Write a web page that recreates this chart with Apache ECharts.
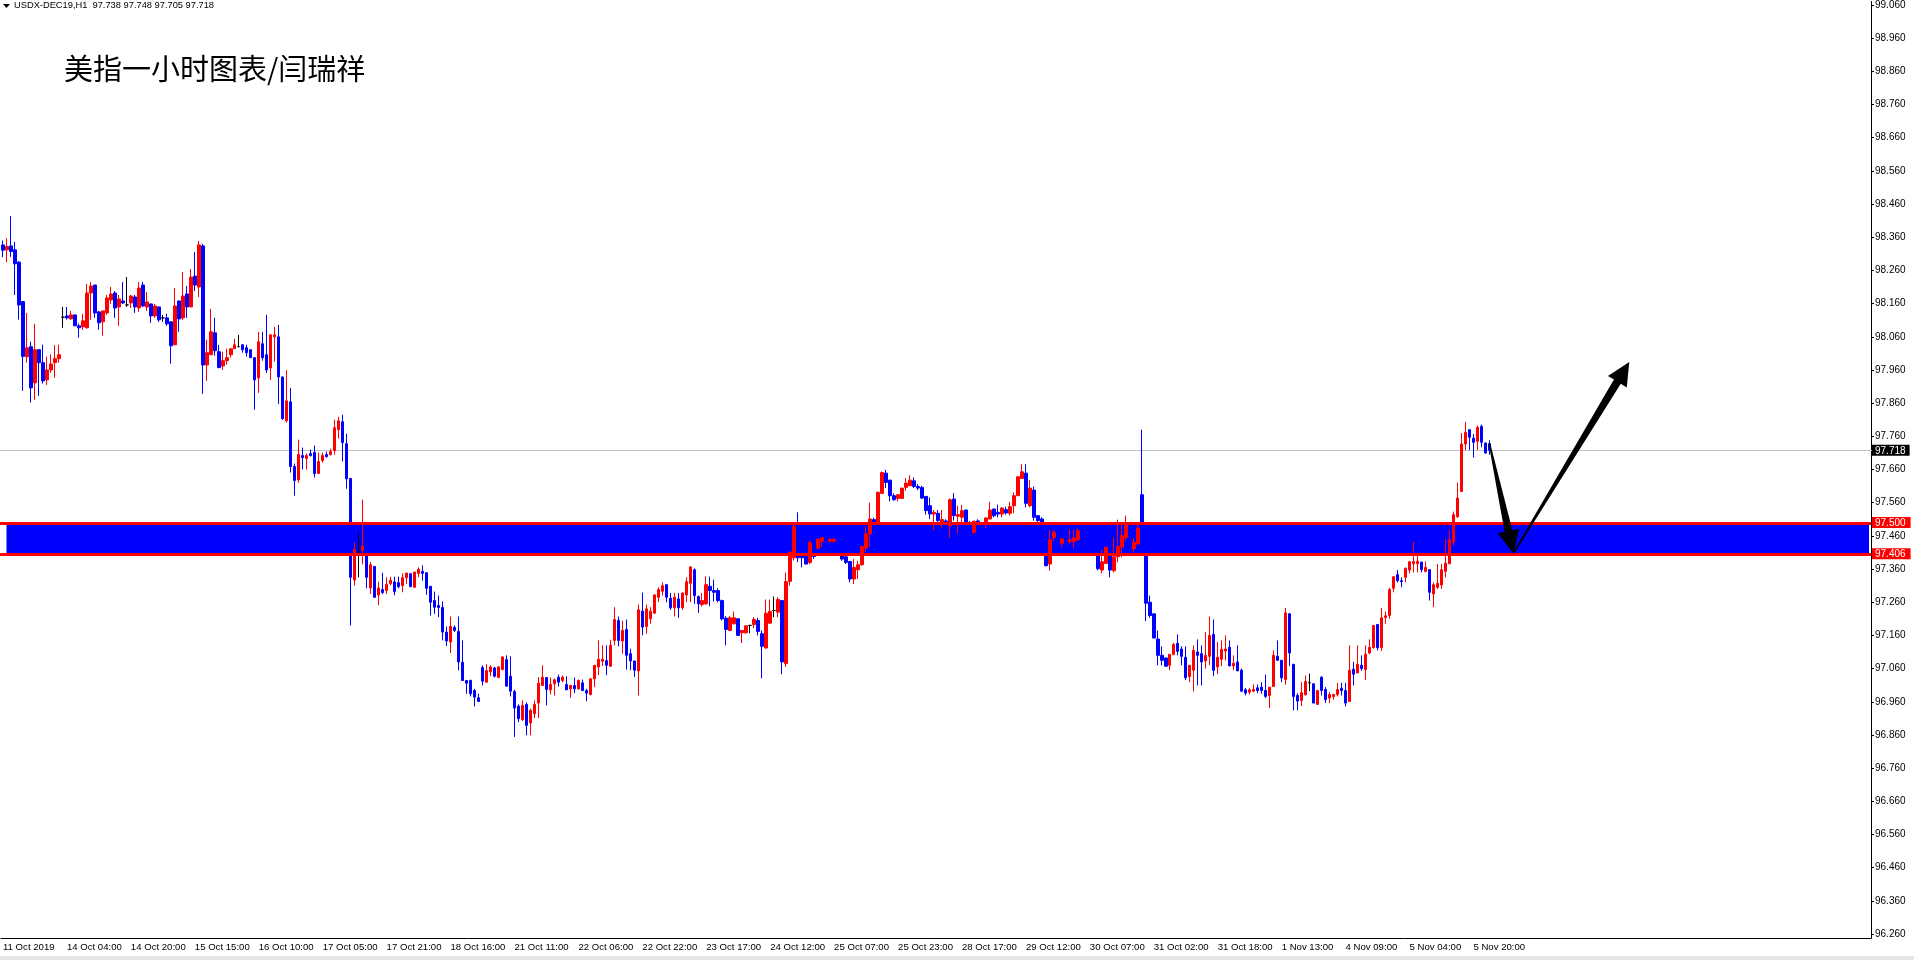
<!DOCTYPE html>
<html><head><meta charset="utf-8">
<script src="https://cdn.jsdelivr.net/npm/echarts@6/dist/echarts.min.js"></script>
<style>html,body{margin:0;padding:0;background:#fff}#c{width:1914px;height:960px}</style>
</head><body><div id="c"></div>
<script>
// ---- data: hourly bars [open, high, low, close] ----
const weekOct11to18 = [
[98.337,98.350,98.300,98.321],
[98.322,98.357,98.285,98.332],[98.334,98.424,98.301,98.317],[98.322,98.346,98.186,98.280],[98.285,98.288,98.112,98.156],
[98.166,98.168,97.897,98.001],[98.000,98.132,97.982,98.027],[98.030,98.045,97.862,97.906],[97.921,98.099,97.870,98.021],
[98.021,98.023,97.882,97.982],[97.982,98.036,97.919,97.927],[97.930,98.000,97.915,97.960],[97.960,98.007,97.951,97.978],
[97.982,98.035,97.936,97.994],[97.994,98.036,97.982,98.006],[98.119,98.150,98.087,98.119],[98.123,98.150,98.112,98.117],
[98.114,98.138,98.112,98.126],[98.126,98.127,98.093,98.093],[98.093,98.100,98.057,98.087],[98.090,98.129,98.081,98.108],
[98.087,98.219,98.085,98.192],[98.192,98.225,98.111,98.213],[98.216,98.217,98.117,98.132],[98.135,98.138,98.081,98.102],
[98.105,98.138,98.063,98.138],[98.132,98.186,98.126,98.177],[98.171,98.210,98.159,98.189],[98.192,98.198,98.117,98.147],
[98.150,98.186,98.093,98.174],[98.168,98.225,98.159,98.162],[98.156,98.240,98.150,98.156],[98.162,98.186,98.147,98.183],
[98.180,98.186,98.132,98.150],[98.147,98.225,98.135,98.207],[98.216,98.225,98.150,98.153],[98.150,98.195,98.138,98.165],
[98.159,98.160,98.102,98.123],[98.123,98.159,98.117,98.153],[98.150,98.151,98.105,98.111],[98.117,98.126,98.105,98.117],
[98.117,98.129,98.093,98.099],[98.105,98.106,97.979,98.033],[98.036,98.207,98.035,98.153],[98.168,98.169,98.075,98.114],
[98.117,98.255,98.111,98.183],[98.189,98.213,98.117,98.150],[98.150,98.264,98.149,98.240],[98.243,98.316,98.198,98.216],
[98.210,98.349,98.180,98.337],[98.334,98.340,97.888,97.975],[97.975,98.051,97.927,98.012],[98.006,98.144,98.005,98.075],
[98.072,98.117,98.003,98.018],[98.015,98.036,97.967,97.967],[97.972,98.015,97.960,97.988],[97.988,98.024,97.976,97.997],
[98.006,98.024,97.997,98.024],[98.024,98.054,98.023,98.036],[98.030,98.066,98.030,98.030],[98.036,98.037,98.012,98.021],
[98.027,98.036,98.000,98.012],[98.021,98.022,97.997,97.997],[97.997,97.998,97.840,97.930],[97.936,98.075,97.891,98.045],
[98.039,98.075,97.988,97.997],[98.006,98.126,97.951,97.960],[97.966,98.066,97.930,98.066],[98.060,98.090,97.985,98.066],
[98.060,98.096,97.858,97.939],[97.939,97.940,97.810,97.813],[97.807,97.960,97.801,97.867],[97.864,97.906,97.651,97.669],
[97.669,97.678,97.581,97.627],[97.629,97.750,97.620,97.705],[97.702,97.726,97.660,97.696],[97.693,97.708,97.660,97.702],
[97.708,97.720,97.699,97.702],[97.711,97.732,97.636,97.648],[97.648,97.711,97.647,97.684],[97.687,97.711,97.681,97.702],
[97.705,97.714,97.696,97.699],[97.705,97.723,97.702,97.714],[97.717,97.810,97.705,97.786],[97.780,97.819,97.753,97.807],
[97.804,97.825,97.684,97.741],[97.738,97.768,97.602,97.632],[97.633,97.634,97.190,97.335],[97.327,97.441,97.310,97.419],
[97.411,97.470,97.335,97.411],[97.416,97.569,97.374,97.429],[97.406,97.407,97.302,97.335],[97.303,97.381,97.285,97.373],
[97.368,97.369,97.273,97.275],[97.282,97.322,97.251,97.303],[97.298,97.349,97.285,97.289],[97.295,97.335,97.285,97.314],
[97.316,97.337,97.311,97.326],[97.321,97.337,97.281,97.292],[97.319,97.337,97.302,97.307],[97.310,97.347,97.290,97.334],
[97.334,97.348,97.315,97.348],[97.346,97.347,97.305,97.307],[97.305,97.351,97.304,97.351],[97.347,97.365,97.335,97.359],
[97.353,97.371,97.325,97.347],[97.349,97.350,97.282,97.302],[97.308,97.309,97.220,97.260],[97.265,97.292,97.225,97.245],
[97.250,97.280,97.215,97.244],[97.244,97.262,97.145,97.170],[97.170,97.187,97.128,97.143],[97.140,97.217,97.107,97.187],
[97.184,97.190,97.170,97.175],[97.172,97.217,97.055,97.080],[97.079,97.145,97.024,97.024],[97.024,97.025,96.984,97.016],
[97.024,97.027,96.976,96.984],[96.994,96.999,96.946,96.974],[96.972,96.984,96.961,96.961]
];
const weekOct21to25 = [
[97.063,97.070,97.009,97.022],[97.019,97.073,97.018,97.054],[97.050,97.070,97.037,97.065],[97.062,97.065,97.033,97.037],
[97.033,97.067,97.032,97.065],[97.057,97.097,97.055,97.095],[97.087,97.100,97.007,97.007],[97.037,97.097,96.976,96.992],
[96.991,96.996,96.854,96.941],[96.947,96.952,96.899,96.909],[96.906,96.964,96.902,96.949],[96.952,96.958,96.859,96.889],
[96.896,96.939,96.859,96.934],[96.924,96.964,96.911,96.952],[96.956,97.034,96.911,97.016],[97.009,97.070,97.008,97.034],
[97.033,97.034,96.949,96.997],[96.996,97.033,96.982,97.012],[97.014,97.030,96.979,97.026],[97.034,97.042,97.006,97.019],
[97.024,97.039,97.019,97.034],[97.012,97.037,96.996,96.996],[96.999,97.011,96.972,97.009],[97.009,97.033,96.986,96.999],
[96.999,97.027,96.996,97.024],[97.017,97.027,96.992,96.994],[96.994,96.999,96.962,96.986],[96.982,97.030,96.979,97.029],
[97.029,97.071,97.004,97.070],[97.065,97.145,97.040,97.088],[97.082,97.130,97.068,97.088],[97.084,97.130,97.040,97.070],
[97.067,97.147,97.066,97.130],[97.145,97.245,97.130,97.208],[97.205,97.217,97.127,97.145],[97.143,97.205,97.105,97.175],
[97.178,97.208,97.057,97.100],[97.105,97.120,97.055,97.083],[97.083,97.084,97.035,97.055],[97.053,97.253,96.979,97.237],
[97.233,97.289,97.160,97.185],[97.187,97.253,97.165,97.240],[97.210,97.245,97.195,97.233],[97.227,97.285,97.226,97.282],
[97.275,97.305,97.260,97.298],[97.293,97.320,97.280,97.310],[97.313,97.314,97.260,97.275],[97.272,97.288,97.237,97.243],
[97.243,97.288,97.217,97.275],[97.270,97.288,97.213,97.243],[97.243,97.288,97.237,97.288],[97.282,97.335,97.260,97.322],
[97.317,97.369,97.260,97.366],[97.358,97.362,97.255,97.280],[97.277,97.280,97.228,97.255],[97.253,97.288,97.247,97.265],
[97.255,97.338,97.253,97.313],[97.308,97.337,97.248,97.295],[97.295,97.328,97.262,97.290],[97.295,97.302,97.260,97.265],
[97.265,97.268,97.205,97.210],[97.212,97.218,97.130,97.178],[97.175,97.218,97.173,97.213],[97.195,97.232,97.193,97.213],
[97.210,97.211,97.160,97.160],[97.168,97.176,97.137,97.175],[97.168,97.189,97.165,97.189],[97.190,97.192,97.167,97.190],
[97.193,97.215,97.182,97.208],[97.205,97.213,97.160,97.172],[97.165,97.175,97.031,97.127],[97.122,97.268,97.120,97.227],
[97.197,97.268,97.196,97.232],[97.235,97.277,97.215,97.235],[97.230,97.275,97.215,97.268],[97.265,97.266,97.043,97.080],
[97.075,97.349,97.065,97.322],[97.323,97.411,97.310,97.411],[97.394,97.494,97.386,97.488],[97.485,97.531,97.381,97.394],
[97.411,97.420,97.365,97.394],[97.401,97.402,97.375,97.375],[97.380,97.448,97.375,97.439],[97.435,97.440,97.390,97.398],
[97.423,97.454,97.419,97.449],[97.443,97.454,97.426,97.454],[97.452,97.460,97.440,97.446],[97.444,97.454,97.439,97.449],
[97.444,97.454,97.439,97.449],[97.450,97.455,97.435,97.440],[97.440,97.445,97.385,97.390],[97.397,97.410,97.375,97.380],
[97.383,97.384,97.320,97.330],[97.330,97.390,97.315,97.365],[97.358,97.385,97.330,97.373],[97.373,97.429,97.370,97.428],
[97.423,97.488,97.411,97.466],[97.466,97.560,97.426,97.511],[97.509,97.515,97.490,97.501],[97.501,97.594,97.500,97.591],
[97.588,97.654,97.587,97.651],[97.649,97.659,97.604,97.621],[97.628,97.629,97.564,97.581],[97.581,97.588,97.566,97.569],
[97.573,97.586,97.564,97.584]
];
const weekOct28toNov1 = [
[97.573,97.604,97.572,97.604],[97.606,97.634,97.596,97.619],[97.611,97.643,97.610,97.628],[97.626,97.636,97.604,97.609],
[97.609,97.616,97.598,97.604],[97.606,97.611,97.571,97.574],[97.579,97.580,97.524,97.536],[97.551,97.576,97.511,97.526],
[97.526,97.538,97.476,97.531],[97.528,97.538,97.501,97.506],[97.501,97.538,97.484,97.509],[97.505,97.510,97.460,97.470],
[97.491,97.573,97.454,97.569],[97.571,97.589,97.506,97.521],[97.519,97.551,97.468,97.524],[97.516,97.553,97.501,97.536],
[97.538,97.539,97.495,97.501],[97.500,97.505,97.470,97.480],[97.471,97.506,97.466,97.504],[97.505,97.510,97.480,97.490],
[97.490,97.500,97.470,97.480],[97.501,97.516,97.484,97.514],[97.511,97.563,97.510,97.538],[97.541,97.542,97.516,97.521],
[97.531,97.554,97.516,97.526],[97.526,97.546,97.516,97.544],[97.539,97.548,97.524,97.529],[97.528,97.563,97.521,97.548],
[97.551,97.591,97.528,97.581],[97.581,97.641,97.580,97.638],[97.633,97.676,97.632,97.653],[97.649,97.676,97.546,97.558],
[97.551,97.628,97.546,97.604],[97.598,97.609,97.506,97.516],[97.521,97.522,97.501,97.506],[97.511,97.516,97.496,97.501],
[97.490,97.495,97.368,97.370],[97.375,97.478,97.355,97.448],[97.454,97.478,97.444,97.471],[97.460,97.465,97.435,97.440],
[97.438,97.454,97.426,97.451],[97.452,97.460,97.430,97.440],[97.443,97.479,97.436,97.448],[97.443,97.479,97.424,97.454],
[97.448,97.484,97.444,97.476],[97.475,97.490,97.450,97.460],[97.460,97.470,97.435,97.440],[97.440,97.450,97.415,97.420],
[97.430,97.440,97.405,97.410],[97.400,97.420,97.356,97.361],[97.357,97.419,97.347,97.382],[97.377,97.426,97.376,97.426],
[97.400,97.410,97.335,97.357],[97.355,97.454,97.350,97.397],[97.397,97.509,97.380,97.428],[97.426,97.498,97.395,97.461],
[97.454,97.521,97.444,97.498],[97.480,97.490,97.430,97.440],[97.421,97.454,97.411,97.441],[97.436,97.496,97.431,97.483],
[97.584,97.780,97.400,97.410],[97.406,97.407,97.203,97.257],[97.260,97.280,97.213,97.220],[97.225,97.226,97.152,97.152],
[97.149,97.175,97.070,97.100],[97.100,97.127,97.070,97.085],[97.092,97.093,97.067,97.067],[97.070,97.103,97.055,97.103],
[97.103,97.137,97.100,97.133],[97.136,97.163,97.100,97.112],[97.119,97.127,97.070,97.097],[97.094,97.127,97.025,97.032],
[97.036,97.070,97.019,97.070],[97.055,97.130,96.991,97.115],[97.110,97.148,97.009,97.100],[97.105,97.130,97.009,97.080],
[97.083,97.170,97.060,97.100],[97.097,97.217,97.070,97.160],[97.163,97.208,97.037,97.055],[97.065,97.140,97.043,97.094],
[97.088,97.145,97.067,97.118],[97.113,97.160,97.085,97.119],[97.124,97.145,97.067,97.068],[97.068,97.100,97.055,97.076],
[97.080,97.130,97.053,97.053],[97.055,97.060,96.989,96.992],[96.996,97.002,96.979,96.986],[96.989,97.002,96.982,96.996],
[96.992,97.012,96.989,96.997],[97.002,97.012,96.986,96.994],[97.004,97.019,96.984,96.994],[96.994,97.042,96.971,96.976],
[96.979,97.004,96.941,97.004],[97.006,97.115,97.005,97.100],[97.097,97.145,97.085,97.085],[97.085,97.086,97.019,97.032],
[97.027,97.243,97.011,97.228],[97.225,97.228,97.068,97.107],[97.073,97.074,96.934,96.976],[96.979,96.986,96.934,96.962],
[96.964,97.019,96.947,96.987],[96.981,97.039,96.979,97.021],[97.017,97.045,96.992,97.017],[97.014,97.015,96.956,96.956],
[96.952,96.994,96.951,96.994],[97.034,97.037,96.979,96.994]
];
const weekNov4to5 = [
[96.997,97.004,96.956,96.966],[96.971,96.989,96.956,96.982],[96.976,96.984,96.966,96.982],[96.982,97.017,96.976,96.997],
[97.001,97.017,96.979,96.994],[96.994,97.017,96.946,96.956],[96.961,97.130,96.960,97.055],[97.058,97.080,97.009,97.043],
[97.047,97.130,97.046,97.073],[97.070,97.100,97.053,97.060],[97.057,97.130,97.025,97.103],[97.107,97.148,97.103,97.124],
[97.123,97.190,97.120,97.190],[97.193,97.194,97.115,97.123],[97.123,97.243,97.113,97.213],[97.214,97.232,97.195,97.219],
[97.220,97.303,97.210,97.298],[97.302,97.337,97.290,97.337],[97.343,97.357,97.320,97.325],[97.325,97.335,97.305,97.322],
[97.335,97.365,97.320,97.362],[97.357,97.382,97.347,97.382],[97.376,97.443,97.350,97.383],[97.376,97.404,97.350,97.383],
[97.381,97.382,97.350,97.358],[97.353,97.383,97.350,97.365],[97.358,97.359,97.265,97.290],[97.285,97.320,97.245,97.313],
[97.305,97.375,97.300,97.317],[97.312,97.375,97.300,97.358],[97.353,97.451,97.335,97.378],[97.376,97.478,97.375,97.448],
[97.441,97.533,97.431,97.524],[97.518,97.621,97.514,97.574],[97.594,97.770,97.593,97.737],[97.737,97.804,97.719,97.772],
[97.780,97.781,97.719,97.757],[97.754,97.767,97.696,97.742],[97.745,97.792,97.719,97.787],[97.790,97.795,97.727,97.742],
[97.740,97.741,97.707,97.710],[97.738,97.748,97.705,97.718]
];
const timeLabels = ["11 Oct 2019","14 Oct 04:00","14 Oct 20:00","15 Oct 15:00","16 Oct 10:00","17 Oct 05:00","17 Oct 21:00",
"18 Oct 16:00","21 Oct 11:00","22 Oct 06:00","22 Oct 22:00","23 Oct 17:00","24 Oct 12:00","25 Oct 07:00","25 Oct 23:00",
"28 Oct 17:00","29 Oct 12:00","30 Oct 07:00","31 Oct 02:00","31 Oct 18:00","1 Nov 13:00","4 Nov 09:00","5 Nov 04:00","5 Nov 20:00"];
const priceTicks = [96.26,96.36,96.46,96.56,96.66,96.76,96.86,96.96,97.06,97.16,97.26,97.36,97.46,97.56,97.66,97.76,97.86,97.96,98.06,98.16,98.26,98.36,98.46,98.56,98.66,98.76,98.86,98.96,99.06];
const zoneLow = 97.406, zoneHigh = 97.500;
const lastPrice = 97.718;
const header = "USDX-DEC19,H1  97.738 97.748 97.705 97.718";
const titleText = "美指一小时图表/闫瑞祥";
// arrows in [barIndex, price] space: tail -> tip
const arrowDown = [[372.2, 97.739], [378.4, 97.407]];
const arrowUp = [[378.4, 97.407], [406.7, 97.984]];

// ---- build ----
const bars = weekOct11to18.concat(weekOct21to25, weekOct28toNov1, weekNov4to5);
const slotCount = 468;
const cats = [];
for (let i = 0; i < slotCount; i++) cats.push(String(i));
const candleData = bars.map(b => [b[0], b[3], b[2], b[1]]);
const lastIdx = slotCount - 1;

function arrowShape(p0, p1) {
  const dx = p1[0]-p0[0], dy = p1[1]-p0[1];
  const L = Math.sqrt(dx*dx+dy*dy);
  const ux = dx/L, uy = dy/L, nx = -uy, ny = ux;
  const headLen = 23, headHalf = 11, shaftEnd = 4, shaftStart = 0.8;
  const bx = p1[0]-ux*headLen, by = p1[1]-uy*headLen;
  return [
    [p0[0]+nx*shaftStart, p0[1]+ny*shaftStart],
    [bx+nx*shaftEnd, by+ny*shaftEnd],
    [bx+nx*headHalf, by+ny*headHalf],
    [p1[0], p1[1]],
    [bx-nx*headHalf, by-ny*headHalf],
    [bx-nx*shaftEnd, by-ny*shaftEnd],
    [p0[0]-nx*shaftStart, p0[1]-ny*shaftStart]
  ];
}

const chart = echarts.init(document.getElementById('c'), null, {renderer: 'canvas'});
const FONT = 'Liberation Sans, Arial, sans-serif';
const specials = [lastPrice, zoneHigh, zoneLow];
chart.setOption({
  animation: false,
  backgroundColor: '#ffffff',
  grid: {left: -2.7, right: 43, top: 0, bottom: 22, containLabel: false},
  xAxis: {
    type: 'category', data: cats, boundaryGap: true,
    axisLine: {lineStyle: {color: '#000', width: 1}},
    axisTick: {alignWithLabel: true, length: 4, lineStyle: {color: '#000'},
      interval: (i) => i % 16 === 0 && i / 16 < timeLabels.length},
    axisLabel: {
      interval: (i) => i % 16 === 0 && i / 16 < timeLabels.length,
      formatter: (v, i) => timeLabels[Math.round(Number(v) / 16)] || '',
      align: 'left', margin: 4, color: '#000', fontSize: 9.6, fontFamily: FONT
    },
    splitLine: {show: false}
  },
  yAxis: {
    type: 'value', position: 'right', min: 96.248, max: 99.0707, scale: true,
    axisLine: {show: true, lineStyle: {color: '#000', width: 1}},
    axisTick: {show: true, length: 3, lineStyle: {color: '#000'}, customValues: priceTicks},
    axisLabel: {
      customValues: priceTicks.concat(specials),
      margin: 1, color: '#000', fontSize: 10, fontFamily: FONT,
      formatter: (v) => {
        const s = Number(v).toFixed(3);
        if (Math.abs(v - lastPrice) < 1e-6) return '{k|' + s + '}';
        if (Math.abs(v - zoneHigh) < 1e-6 || Math.abs(v - zoneLow) < 1e-6) return '{r|' + s + '}';
        return '{n|' + s + '}';
      },
      rich: {
        n: {color: '#000', fontSize: 10, fontFamily: FONT, padding: [0, 0, 0, 3]},
        k: {color: '#fff', backgroundColor: '#000', fontSize: 10, fontFamily: FONT, padding: [1, 4, 0, 3], lineHeight: 10},
        r: {color: '#fff', backgroundColor: '#ff0000', fontSize: 10, fontFamily: FONT, padding: [1, 5, 0, 3], lineHeight: 10}
      }
    },
    splitLine: {show: false}
  },
  graphic: [
    {type: 'polygon', shape: {points: [[3,4],[10,4],[6.5,8]]}, style: {fill: '#000'}},
    {type: 'text', left: 14, top: 1, style: {text: header, fill: '#000', font: '9.3px ' + FONT}},
    {type: 'text', left: 64, top: 54, style: {text: titleText, fill: '#000', font: '29px "Noto Sans CJK SC"'}},
    {type: 'rect', left: 0, top: 956, shape: {width: 1914, height: 4}, style: {fill: '#e6e6e6'}}
  ],
  series: [
    { // zone rectangle
      type: 'custom', z: 1, silent: true,
      data: [[0, 466.9, zoneLow, zoneHigh]],
      renderItem: (params, api) => {
        const a = api.coord([api.value(0), api.value(3)]);
        const b = api.coord([api.value(1), api.value(2)]);
        const x0 = a[0] + 3.5;
        return {type: 'rect', shape: {x: x0, y: a[1], width: b[0]-x0, height: b[1]-a[1]}, style: {fill: '#0000ff'}};
      }
    },
    { // price line
      type: 'custom', z: 1, silent: true,
      data: [[0, lastIdx, lastPrice]],
      renderItem: (params, api) => {
        const a = api.coord([api.value(0), api.value(2)]);
        const b = api.coord([api.value(1), api.value(2)]);
        return {type: 'line', shape: {x1: 0, y1: Math.round(a[1]) + 0.5, x2: b[0] + 3, y2: Math.round(a[1]) + 0.5}, style: {stroke: '#c0c0c0', lineWidth: 1}};
      }
    },
    {
      type: 'candlestick', z: 2, data: candleData, barWidth: 3,
      itemStyle: {color: '#ff0000', color0: '#0000ff', borderColor: '#ff0000', borderColor0: '#0000ff', borderColorDoji: '#000000', borderWidth: 1}
    },
    { // zone border lines
      type: 'custom', z: 3, silent: true,
      data: [[0, lastIdx, zoneHigh], [0, lastIdx, zoneLow]],
      renderItem: (params, api) => {
        const a = api.coord([api.value(0), api.value(2)]);
        const b = api.coord([api.value(1), api.value(2)]);
        const y = Math.round(a[1]) + 0.5;
        return {type: 'line', shape: {x1: 0, y1: y, x2: b[0] + 2, y2: y}, style: {stroke: '#ff0000', lineWidth: 3}};
      }
    },
    { // arrows
      type: 'custom', z: 4, silent: true,
      data: [arrowDown[0].concat(arrowDown[1]), arrowUp[0].concat(arrowUp[1])],
      renderItem: (params, api) => {
        const p0 = api.coord([api.value(0), api.value(1)]);
        const p1 = api.coord([api.value(2), api.value(3)]);
        return {type: 'polygon', shape: {points: arrowShape(p0, p1)}, style: {fill: '#000'}};
      }
    }
  ]
});
</script></body></html>
